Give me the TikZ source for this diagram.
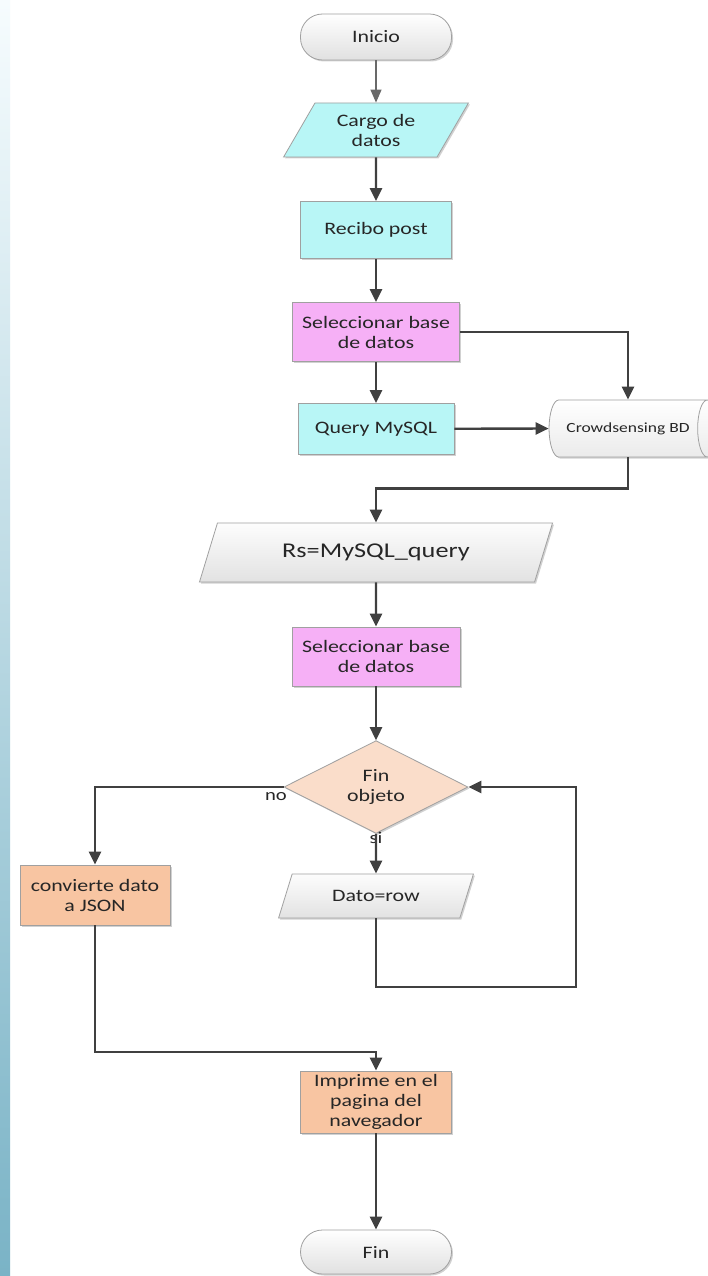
\documentclass[tikz,border=0pt]{standalone}
\usepackage{fontspec}
\setmainfont{Carlito}[FakeStretch=1.25]
\usetikzlibrary{shapes.geometric,arrows.meta,shadows}

\definecolor{flowline}{RGB}{64,64,64}
\definecolor{thinline}{RGB}{105,105,105}
\definecolor{boxline}{RGB}{160,160,160}
\definecolor{procCyan}{RGB}{184,246,246}
\definecolor{procPink}{RGB}{246,176,246}
\definecolor{procPeach}{RGB}{250,221,202}
\definecolor{procOrange}{RGB}{248,197,162}
\definecolor{ioGray}{RGB}{226,226,226}
\definecolor{stripTop}{RGB}{246,252,254}
\definecolor{stripMid}{RGB}{236,246,250}
\definecolor{stripBot}{RGB}{122,179,198}

\tikzset{
  basebox/.style={draw=boxline, line width=0.8pt, align=center, inner sep=0pt,
    font=\fontsize{17.5}{20}\selectfont, text=black!85,
    drop shadow={shadow xshift=1.5pt, shadow yshift=-1.5pt, opacity=0.18, fill=black}},
  terminal/.style={basebox, rounded corners=22pt, minimum width=151pt, minimum height=46pt,
    top color=white, bottom color=black!12},
  procbox/.style={basebox, rectangle},
  iobox/.style={basebox, trapezium, trapezium left angle=58, trapezium right angle=122,
    trapezium stretches=true},
  decbox/.style={basebox, diamond, fill=procPeach},
  dbbox/.style={basebox, cylinder, shape aspect=1.6, minimum width=57pt, minimum height=168pt,
    top color=white, bottom color=black!8, font=\fontsize{14}{16}\selectfont},
  flow/.style={line width=2.4pt, draw=flowline, -{Triangle[length=13pt,width=12pt]}},
  thinflow/.style={line width=1.2pt, draw=thinline, -{Triangle[length=13pt,width=11pt]}},
  lbl/.style={font=\fontsize{16.5}{18}\selectfont, text=black!85, inner sep=0pt}
}

\begin{document}
\begin{tikzpicture}[x=1pt,y=-1pt]
  % page and side strip
  \fill[white] (0,0) rectangle (708,1276);
  \useasboundingbox (0,0) rectangle (708,1276);
  \shade[top color=stripTop, middle color=stripMid, bottom color=stripBot] (0,0) rectangle (10,1276);

  % nodes
  \node[terminal] (inicio) at (376,37) {Inicio};
  \node[iobox, fill=procCyan, minimum width=185pt, minimum height=54pt] (cargo) at (376,130) {Cargo de\\datos};
  \node[procbox, fill=procCyan, minimum width=151pt, minimum height=57pt] (recibo) at (376,230) {Recibo post};
  \node[procbox, fill=procPink, minimum width=167pt, minimum height=59pt] (sel1) at (376,332) {Seleccionar base\\de datos};
  \node[procbox, fill=procCyan, minimum width=156pt, minimum height=51pt] (query) at (376,429) {Query MySQL};
  \node[dbbox] (db) at (628,428.5) {Crowdsensing BD};
  \node[iobox, top color=white!92!ioGray, bottom color=ioGray, minimum width=354pt, minimum height=59pt,
        font=\fontsize{21}{24}\selectfont] (rs) at (376,552.5) {Rs=MySQL\_query};
  \node[procbox, fill=procPink, minimum width=168pt, minimum height=59pt] (sel2) at (376,656.5) {Seleccionar base\\de datos};
  \node[decbox, minimum width=184pt, minimum height=84pt] (dec) at (376,787) {Fin\\objeto};
  \node[procbox, fill=procOrange, minimum width=150pt, minimum height=60pt] (conv) at (95,895) {convierte dato\\a JSON};
  \node[iobox, top color=white!92!ioGray, bottom color=ioGray, minimum width=195pt, minimum height=44pt] (dato) at (376,896) {Dato=row};
  \node[procbox, fill=procOrange, minimum width=151pt, minimum height=62pt] (imp) at (376,1102) {Imprime en el\\pagina del\\navegador};
  \node[terminal, minimum height=44pt] (fin) at (376,1252) {Fin};

  % branch labels
  \node[lbl] (nolab) at (276,797) {no};
  \node[lbl] (silab) at (376,838) {si};

  % routing points
  \coordinate (loopc) at (576,987);
  \coordinate (joinc) at (376,1052);

  % connectors
  \draw[thinflow] (inicio) -- (cargo);
  \draw[flow] (cargo) -- (recibo);
  \draw[flow] (recibo) -- (sel1);
  \draw[flow] (sel1) -- (query);
  \draw[flow] (sel1.east) -| (db.north);
  \draw[flow] (query) -- (db.west);
  \draw[flow] (db.south) -- ++(0,31) -| (rs.north);
  \draw[flow] (rs) -- (sel2);
  \draw[flow] (sel2) -- (dec);
  \draw[flow] (dec.west) -| (conv.north);
  \draw[flow] (dec.south) -- (dato.north);
  \draw[flow] (dato.south) |- (loopc) |- (dec.east);
  \draw[flow] (conv.south) |- (joinc) -- (imp.north);
  \draw[flow] (imp) -- (fin);
\end{tikzpicture}
\end{document}
